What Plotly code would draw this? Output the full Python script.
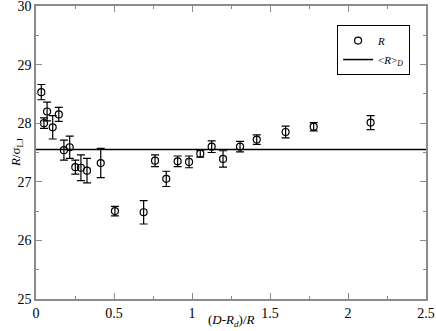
import plotly.graph_objects as go

# (D-R_d)/R positions and R/sigma_LJ values
x_vals = [0.034, 0.051, 0.071, 0.107, 0.146, 0.179, 0.216, 0.252, 0.288, 0.327,
          0.415, 0.506, 0.69, 0.763, 0.835, 0.908, 0.981, 1.053, 1.126, 1.199,
          1.308, 1.415, 1.60, 1.78, 2.145]
r_vals = [28.53, 28.0, 28.2, 27.93, 28.15, 27.54, 27.59, 27.25, 27.24, 27.19,
          27.32, 26.5, 26.48, 27.36, 27.05, 27.35, 27.34, 27.48, 27.6, 27.39,
          27.6, 27.72, 27.85, 27.94, 28.01]
r_err = [0.13, 0.09, 0.16, 0.2, 0.12, 0.17, 0.19, 0.12, 0.22, 0.21,
         0.25, 0.08, 0.2, 0.1, 0.13, 0.09, 0.1, 0.06, 0.1, 0.14,
         0.09, 0.08, 0.1, 0.07, 0.12]

r_mean = 27.55
mean_x = [0, 2.5]

font_serif = "Liberation Serif, Times New Roman, serif"

fig = go.Figure()

fig.add_trace(go.Scatter(
    x=x_vals, y=r_vals,
    mode='markers',
    name='<i>R</i>',
    marker=dict(symbol='circle-open', size=7, color='black', line=dict(width=1.2)),
    error_y=dict(type='data', array=r_err, visible=True, color='black', thickness=1.2, width=4),
))

fig.add_trace(go.Scatter(
    x=mean_x, y=[r_mean, r_mean],
    mode='lines',
    name='&lt;<i>R</i>&gt;<sub><i>D</i></sub>',
    line=dict(color='black', width=1.5),
))

axis_common = dict(
    showline=True, linecolor='#8c8c8c', linewidth=1.5, mirror='ticks',
    ticks='inside', ticklen=6, tickcolor='#8c8c8c',
    showgrid=False, zeroline=False, automargin=False,
    ticklabeloverflow='allow',
    tickfont=dict(family=font_serif, size=14, color='black'),
)

fig.update_layout(
    width=436, height=331,
    margin=dict(l=36, r=10, t=6, b=32),
    plot_bgcolor='white', paper_bgcolor='white',
    font=dict(family=font_serif, size=14, color='black'),
    xaxis=dict(
        range=[0, 2.5], dtick=0.5, tick0=0, ticklabelstandoff=0,
        minor=dict(dtick=0.25, ticks='inside', ticklen=3, tickcolor='#8c8c8c'),
        **axis_common,
    ),
    yaxis=dict(
        range=[25, 30], dtick=1, tick0=25,
        minor=dict(dtick=0.5, ticks='inside', ticklen=3, tickcolor='#8c8c8c'),
        **axis_common,
    ),
    legend=dict(
        x=0.772, y=0.935, xanchor='left', yanchor='top',
        bordercolor='black', borderwidth=1, bgcolor='white',
        font=dict(family=font_serif, size=11),
        itemwidth=30, tracegroupgap=0,
    ),
    showlegend=True,
)

# axis titles placed as annotations so the margins stay like the reference
fig.add_annotation(
    text='(<i>D</i>-<i>R</i><sub><i>d</i></sub>)/<i>R</i>',
    xref='paper', yref='paper', x=0.5, y=-0.038, yanchor='top',
    showarrow=False, font=dict(family=font_serif, size=13),
)
fig.add_annotation(
    text='<i>R</i>/σ<sub>LJ</sub>', textangle=-90,
    xref='paper', yref='paper', x=-0.05, y=0.5, xanchor='center',
    showarrow=False, font=dict(family=font_serif, size=13),
)

# page body has a default margin; drop it so the figure sits at the window corner
fig.write_html("out.html", config={'displayModeBar': False},
               post_script="document.body.style.margin='0';")
